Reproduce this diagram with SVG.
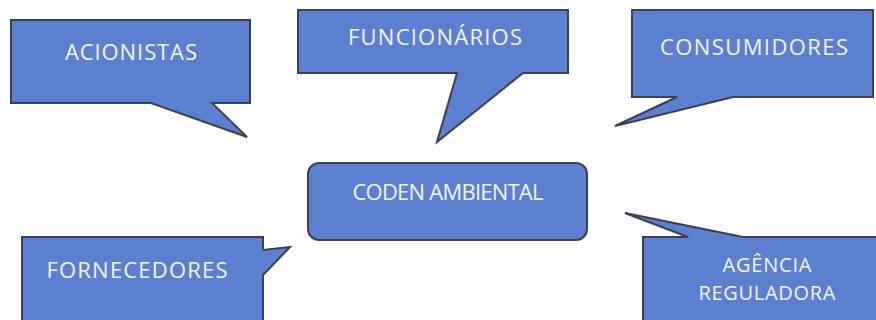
<svg xmlns="http://www.w3.org/2000/svg" width="876" height="320" viewBox="0 0 876 320">
  <style>
    .shape { fill: #5c80d0; stroke: #3d3f52; stroke-width: 2; stroke-linejoin: miter; }
    .label { font-family: "Open Sans", "Liberation Sans", sans-serif; font-size: 22px; fill: #f2f5ff; text-anchor: middle; }
    .small { font-size: 20px; }
  </style>
  <rect x="0" y="0" width="876" height="320" fill="#fdfdfd"/>
  <g id="connectors"></g>
  <g id="acionistas">
    <path class="shape" d="M11,20 H250 V103 H212 L247,137 L151,103 H11 Z"/>
    <text class="label" x="131" y="60" textLength="132" lengthAdjust="spacing">ACIONISTAS</text>
  </g>
  <g id="funcionarios">
    <path class="shape" d="M298,10 H568 V73 H523 L437,142 L457,73 H298 Z"/>
    <text class="label" x="435" y="45" textLength="174" lengthAdjust="spacing">FUNCIONÁRIOS</text>
  </g>
  <g id="consumidores">
    <path class="shape" d="M632,10 H873 V97 H733 L615,126 L677,97 H632 Z"/>
    <text class="label" x="754" y="55" textLength="188" lengthAdjust="spacing">CONSUMIDORES</text>
  </g>
  <g id="coden-ambiental">
    <rect class="shape" x="308" y="163" width="279" height="77" rx="11" ry="11"/>
    <text class="label" x="448" y="200" textLength="191" lengthAdjust="spacing">CODEN AMBIENTAL</text>
  </g>
  <g id="fornecedores">
    <path class="shape" d="M22,237 H263 V250 L290,247 L263,275 V330 H22 Z"/>
    <text class="label" x="137" y="278" textLength="181" lengthAdjust="spacing">FORNECEDORES</text>
  </g>
  <g id="agencia-reguladora">
    <path class="shape" d="M643,237 H688 L625,213 L743,237 H885 V330 H643 Z"/>
    <text class="label small" x="767" y="272" textLength="89" lengthAdjust="spacing">AGÊNCIA</text>
    <text class="label small" x="767" y="300" textLength="137" lengthAdjust="spacing">REGULADORA</text>
  </g>
</svg>
